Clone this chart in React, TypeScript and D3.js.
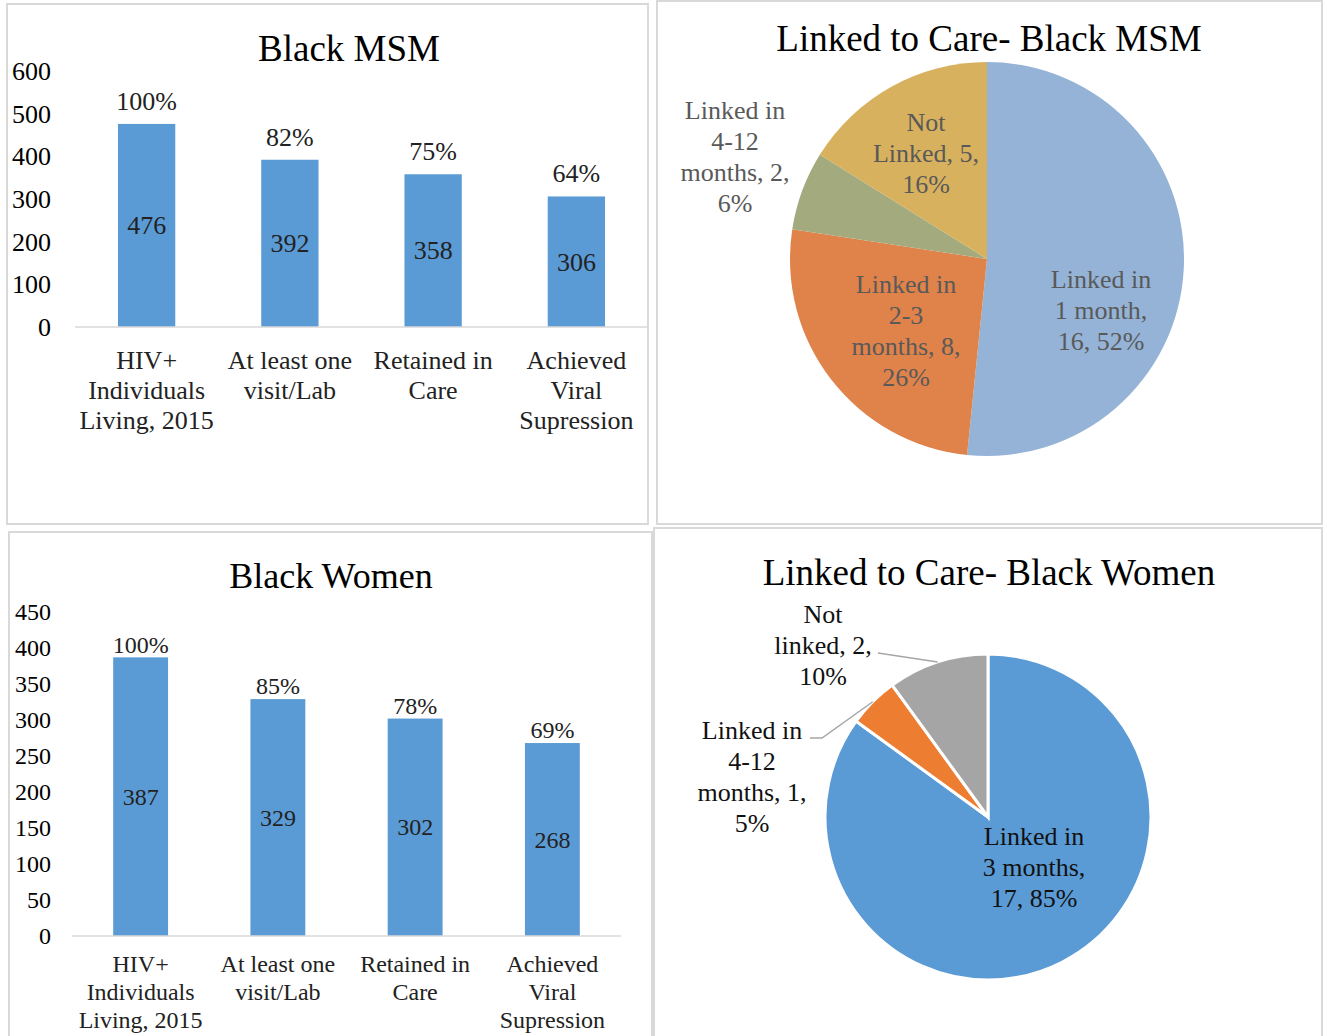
import React from 'react';
import * as d3 from 'd3';

// bar charts
const barCategories = [
  ['HIV+', 'Individuals', 'Living, 2015'],
  ['At least one', 'visit/Lab'],
  ['Retained in', 'Care'],
  ['Achieved', 'Viral', 'Supression'],
];
const msmValues = [476, 392, 358, 306];
const msmPercents = ['100%', '82%', '75%', '64%'];
const msmTicks = [0, 100, 200, 300, 400, 500, 600];

const womenValues = [387, 329, 302, 268];
const womenPercents = ['100%', '85%', '78%', '69%'];
const womenTicks = [0, 50, 100, 150, 200, 250, 300, 350, 400, 450];

// pie charts
const msmLinkLabels = [
  ['Linked in', '1 month,', '16, 52%'],
  ['Linked in', '2-3', 'months, 8,', '26%'],
  ['Linked in', '4-12', 'months, 2,', '6%'],
  ['Not', 'Linked, 5,', '16%'],
];
const msmLinkValues = [16, 8, 2, 5];
const msmLinkColors = ['#95b3d7', '#e0834a', '#a2aa7e', '#d8b15e'];

const womenLinkLabels = [
  ['Linked in', '3 months,', '17, 85%'],
  ['Linked in', '4-12', 'months, 1,', '5%'],
  ['Not', 'linked, 2,', '10%'],
];
const womenLinkValues = [17, 1, 2];
const womenLinkColors = ['#5b9bd5', '#ed7d31', '#a5a5a5'];

const FONT = '"Liberation Serif", "Times New Roman", serif';
const BORDER = '#d9d9d9';

interface BarProps {
  title: string;
  titleX: number;
  titleY: number;
  titleSize: number;
  values: number[];
  percents: string[];
  ticks: number[];
  xRange: [number, number];
  yRange: [number, number];
  fs: number;
  pctGap: number;
  catY: number;
  catStep: number;
}

const BarPanel: React.FC<BarProps> = (p) => {
  const x = d3.scaleBand<number>()
    .domain(d3.range(p.values.length))
    .range(p.xRange)
    .paddingInner(0.6)
    .paddingOuter(0.3);
  const y = d3.scaleLinear()
    .domain([0, d3.max(p.ticks) || 0])
    .range(p.yRange);
  const off = p.fs * 0.34;
  return (
    <g fontFamily={FONT}>
      <text x={p.titleX} y={p.titleY + p.titleSize * 0.34} textAnchor="middle" fontSize={p.titleSize}>{p.title}</text>
      {p.ticks.map(t => (
        <text key={t} x={51} y={y(t) + off} textAnchor="end" fontSize={p.fs}>{t}</text>
      ))}
      {p.values.map((v, i) => {
        const bx = x(i) || 0;
        const cx = bx + x.bandwidth() / 2;
        return (
          <g key={i}>
            <rect x={bx} y={y(v)} width={x.bandwidth()} height={y(0) - y(v)} fill="#5b9bd5" />
            <text x={cx} y={(y(v) + y(0)) / 2 + off} textAnchor="middle" fontSize={p.fs} fill="#222">{v}</text>
            <text x={cx} y={y(v) - p.pctGap + off} textAnchor="middle" fontSize={p.fs} fill="#222">{p.percents[i]}</text>
            {barCategories[i].map((line, j) => (
              <text key={j} x={cx} y={p.catY + j * p.catStep + off} textAnchor="middle" fontSize={p.fs} fill="#222">{line}</text>
            ))}
          </g>
        );
      })}
      <line x1={p.xRange[0]} x2={p.xRange[1]} y1={y(0)} y2={y(0)} stroke={BORDER} strokeWidth={1.5} />
    </g>
  );
};

interface PieProps {
  title: string;
  titleX: number;
  titleY: number;
  cx: number;
  cy: number;
  r: number;
  values: number[];
  colors: string[];
  labels: string[][];
  labelPos: [number, number][];
  labelColor: string[];
  sliceStroke: number;
  leaders?: ([number, number][] | null)[];
}

const PiePanel: React.FC<PieProps> = (p) => {
  const pie = d3.pie<number>().sort(null).value(d => d);
  const arcs = pie(p.values);
  const arc = d3.arc<d3.PieArcDatum<number>>().innerRadius(0).outerRadius(p.r);
  const fs = 26;
  const lh = 31;
  return (
    <g fontFamily={FONT}>
      <text x={p.titleX} y={p.titleY + 37 * 0.34} textAnchor="middle" fontSize={37}>{p.title}</text>
      <g transform={`translate(${p.cx},${p.cy})`}>
        {arcs.map((a, i) => (
          <path key={i} d={arc(a) || ''} fill={p.colors[i]} stroke="#fff" strokeWidth={p.sliceStroke} />
        ))}
        {p.leaders && p.leaders.map((pts, i) => {
          if (!pts) return null;
          const mid = (arcs[i].startAngle + arcs[i].endAngle) / 2;
          const end: [number, number] = [Math.sin(mid) * p.r, -Math.cos(mid) * p.r];
          const all = [...pts, end];
          return <path key={'l' + i} d={d3.line()(all) || ''} fill="none" stroke="#a6a6a6" strokeWidth={1.5} />;
        })}
        {p.labels.map((lines, i) => {
          const [lx, ly] = p.labelPos[i];
          const top = ly - ((lines.length - 1) * lh) / 2;
          return lines.map((line, j) => (
            <text key={i + '-' + j} x={lx} y={top + j * lh + fs * 0.34} textAnchor="middle" fontSize={fs} fill={p.labelColor[i]}>{line}</text>
          ));
        })}
      </g>
    </g>
  );
};

export default function App() {
  return (
    <svg width={1327} height={1036} style={{ position: 'absolute', left: 0, top: 0, background: '#fff' }}>
      <rect x={0} y={0} width={1327} height={1036} fill="#fff" />
      <rect x={7} y={4} width={641} height={520} fill="#fff" stroke={BORDER} strokeWidth={2} />
      <rect x={657} y={1} width={665} height={523} fill="#fff" stroke={BORDER} strokeWidth={2} />
      <rect x={9} y={532} width={643} height={510} fill="#fff" stroke={BORDER} strokeWidth={2} />
      <rect x={654} y={528} width={668} height={514} fill="#fff" stroke={BORDER} strokeWidth={2} />

      <BarPanel
        title="Black MSM" titleX={349} titleY={48} titleSize={37}
        values={msmValues} percents={msmPercents} ticks={msmTicks}
        xRange={[75, 648]} yRange={[327, 71]} fs={26} pctGap={23}
        catY={360} catStep={30}
      />
      <BarPanel
        title="Black Women" titleX={331} titleY={576} titleSize={36}
        values={womenValues} percents={womenPercents} ticks={womenTicks}
        xRange={[72, 621]} yRange={[936, 612]} fs={24} pctGap={13}
        catY={964} catStep={28}
      />
      <PiePanel
        title="Linked to Care- Black MSM" titleX={989} titleY={38}
        cx={987} cy={259} r={197}
        values={msmLinkValues} colors={msmLinkColors} labels={msmLinkLabels}
        labelPos={[[114, 51], [-81, 72], [-252, -102], [-61, -106]]}
        labelColor={['#595959', '#595959', '#595959', '#595959']}
        sliceStroke={0}
      />
      <PiePanel
        title="Linked to Care- Black Women" titleX={989} titleY={572}
        cx={988} cy={817} r={163}
        values={womenLinkValues} colors={womenLinkColors} labels={womenLinkLabels}
        labelPos={[[46, 50], [-236, -40], [-165, -172]]}
        labelColor={['#111', '#111', '#111']}
        sliceStroke={3}
        leaders={[null, [[-178, -79], [-166, -79]], [[-110, -164]]]}
      />
    </svg>
  );
}
